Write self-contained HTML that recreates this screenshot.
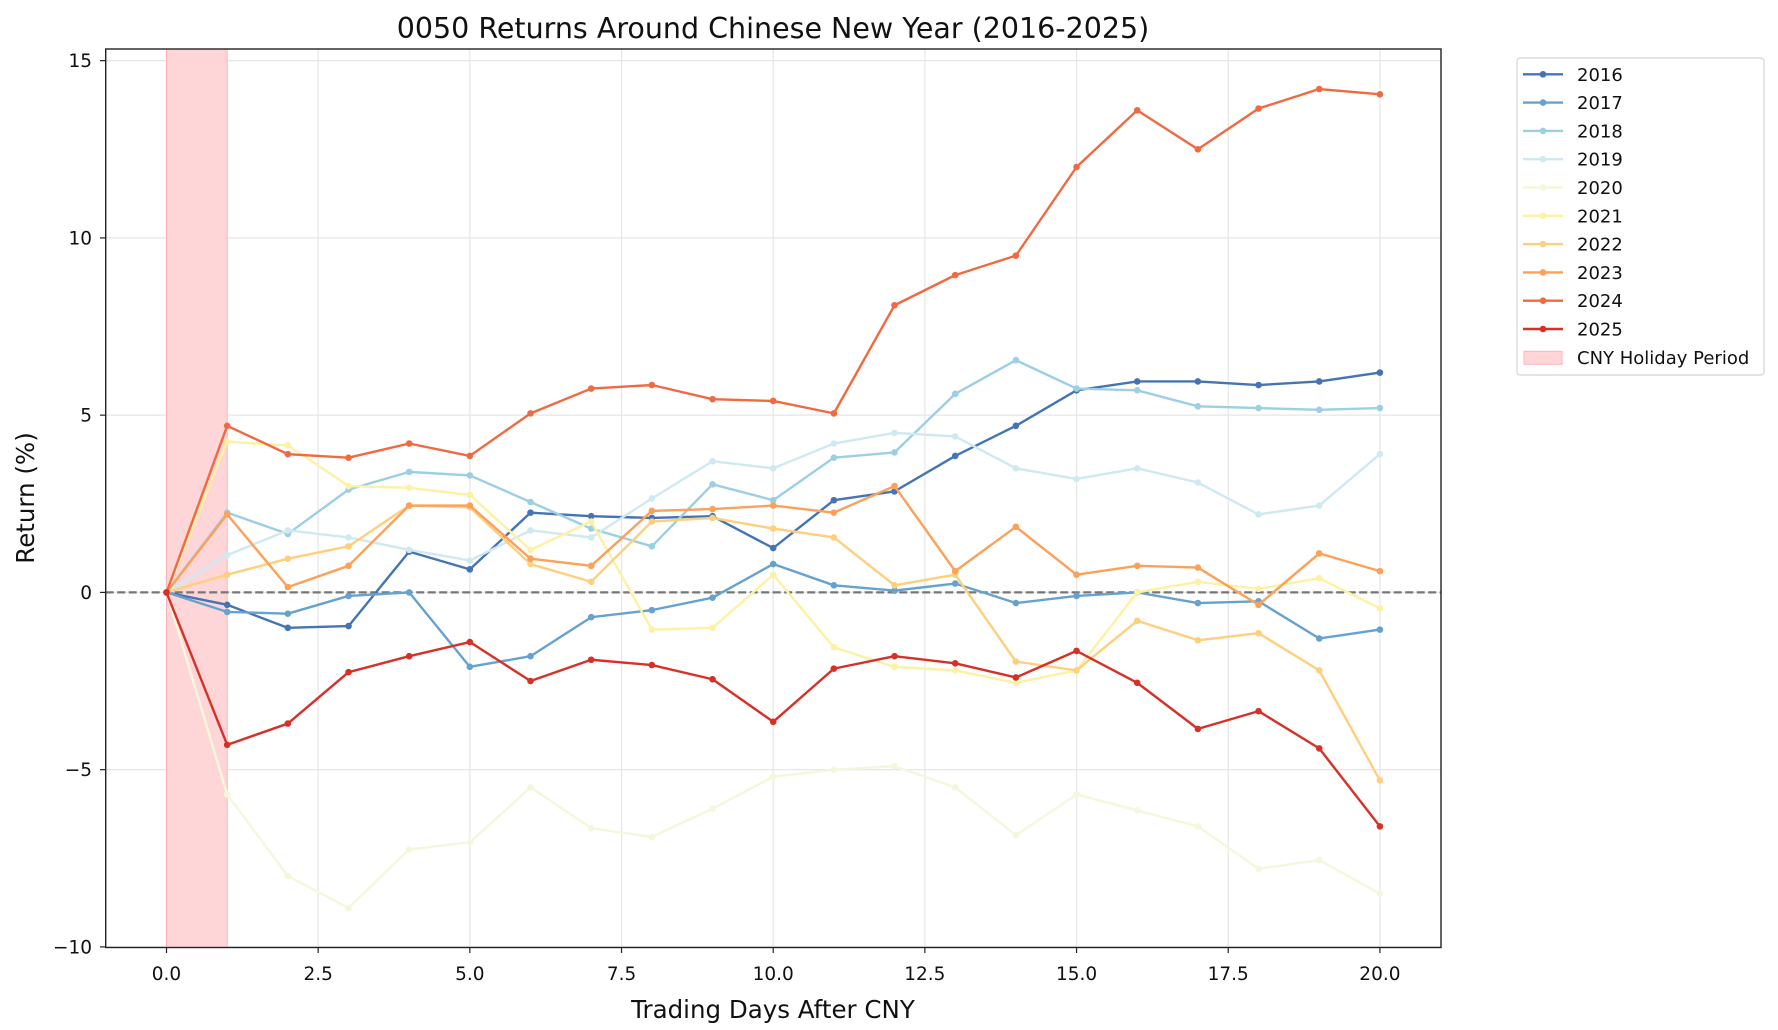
<!DOCTYPE html>
<html><head><meta charset="utf-8"><style>body{margin:0;background:#fff}svg{display:block;font-family:"DejaVu Sans","Liberation Sans",sans-serif}</style></head>
<body>
<svg id="s" width="1778" height="1030" xmlns="http://www.w3.org/2000/svg">
<rect width="1778" height="1030" fill="#fff"/>
<g id="grid"></g>
<rect x="166.5" y="49" width="60.7" height="898.5" fill="#ffd6d8" stroke="#ffb3b8" stroke-width="1"/>
<line x1="105.7" x2="1441" y1="592.4" y2="592.4" stroke="#777" stroke-width="2.2" stroke-dasharray="8,3.5"/>
<g id="series"></g>
<rect x="105.7" y="49" width="1335.3" height="898.5" fill="none" stroke="#222" stroke-width="1.4"/>
<g id="ticks" font-size="18.5" fill="#111"></g>
<text x="773" y="38" font-size="28.5" text-anchor="middle" fill="#111">0050 Returns Around Chinese New Year (2016-2025)</text>
<text x="773" y="1018" font-size="24.5" text-anchor="middle" fill="#111">Trading Days After CNY</text>
<text transform="translate(34,498) rotate(-90)" font-size="24.5" text-anchor="middle" fill="#111">Return (%)</text>
<rect x="1517" y="58" width="247" height="317" rx="3" fill="#fff" stroke="#d4d4d4" stroke-width="1.2"/>
<g id="leg" font-size="18" fill="#111"></g>
</svg>
<script>
const X=d=>166.5+d*60.67, Y=v=>592.4-v*35.45;
const ns="http://www.w3.org/2000/svg";
function el(p,t,a,txt){const e=document.createElementNS(ns,t);for(const k in a)e.setAttribute(k,a[k]);if(txt!=null)e.textContent=txt;document.getElementById(p).appendChild(e);}
for(let i=0;i<=8;i++){const x=X(i*2.5);el("grid","line",{x1:x,x2:x,y1:49,y2:947.5,stroke:"#e6e6e6","stroke-width":1.2});
el("ticks","line",{x1:x,x2:x,y1:947.5,y2:953,stroke:"#222","stroke-width":1.2});
el("ticks","text",{x:x,y:980,"text-anchor":"middle"},(i*2.5).toFixed(1));}
for(let v=-10;v<=15;v+=5){const y=Y(v);el("grid","line",{x1:105.7,x2:1441,y1:y,y2:y,stroke:"#e6e6e6","stroke-width":1.2});
el("ticks","line",{x1:100,x2:105.7,y1:y,y2:y,stroke:"#222","stroke-width":1.2});
el("ticks","text",{x:92,y:y+6.5,"text-anchor":"end"},v<0?"−"+(-v):""+v);}
const D={
2016:[0,-0.35,-1.0,-0.95,1.15,0.65,2.25,2.15,2.1,2.15,1.25,2.6,2.85,3.85,4.7,5.7,5.95,5.95,5.85,5.95,6.2],
2017:[0,-0.55,-0.6,-0.1,0,-2.1,-1.8,-0.7,-0.5,-0.15,0.8,0.2,0.05,0.25,-0.3,-0.1,0,-0.3,-0.25,-1.3,-1.05],
2018:[0,2.25,1.65,2.9,3.4,3.3,2.55,1.8,1.3,3.05,2.6,3.8,3.95,5.6,6.55,5.75,5.7,5.25,5.2,5.15,5.2],
2019:[0,1.05,1.75,1.55,1.2,0.9,1.75,1.55,2.65,3.7,3.5,4.2,4.5,4.4,3.5,3.2,3.5,3.1,2.2,2.45,3.9],
2020:[0,-5.7,-8.0,-8.9,-7.25,-7.05,-5.5,-6.65,-6.9,-6.1,-5.2,-5.0,-4.9,-5.5,-6.85,-5.7,-6.15,-6.6,-7.8,-7.55,-8.5],
2021:[0,4.25,4.15,3.0,2.95,2.75,1.2,2.0,-1.05,-1.0,0.5,-1.55,-2.1,-2.2,-2.55,-2.2,0,0.3,0.1,0.4,-0.45],
2022:[0,0.5,0.95,1.3,2.45,2.4,0.8,0.3,2.0,2.1,1.8,1.55,0.2,0.5,-1.95,-2.2,-0.8,-1.35,-1.15,-2.2,-5.3],
2023:[0,2.2,0.15,0.75,2.45,2.45,0.95,0.75,2.3,2.35,2.45,2.25,3.0,0.6,1.85,0.5,0.75,0.7,-0.35,1.1,0.6],
2024:[0,4.7,3.9,3.8,4.2,3.85,5.05,5.75,5.85,5.45,5.4,5.05,8.1,8.95,9.5,12.0,13.6,12.5,13.65,14.2,14.05],
2025:[0,-4.3,-3.7,-2.25,-1.8,-1.4,-2.5,-1.9,-2.05,-2.45,-3.65,-2.15,-1.8,-2.0,-2.4,-1.65,-2.55,-3.85,-3.35,-4.4,-6.6]};
const C=["#4474b3","#66a2cf","#9ccfe4","#cfe9f1","#f2f8dc","#fdf1a3","#fecf7c","#fca05a","#f16941","#d73027"];
Object.keys(D).forEach((k,i)=>{const d=D[k];
el("series","polyline",{points:d.map((v,j)=>X(j)+","+Y(v)).join(" "),fill:"none",stroke:C[i],"stroke-width":2.4,"stroke-linejoin":"round"});
d.forEach((v,j)=>el("series","circle",{cx:X(j),cy:Y(v),r:3.3,fill:C[i]}));
const y=74.3+i*28.3;
el("leg","line",{x1:1523,x2:1563,y1:y,y2:y,stroke:C[i],"stroke-width":2.4});
el("leg","circle",{cx:1543,cy:y,r:3.3,fill:C[i]});
el("leg","text",{x:1577,y:y+6.5},k);});
const y=74.3+10*28.3;
el("leg","rect",{x:1524,y:y-6,width:38,height:13,fill:"#ffd6d8",stroke:"#ffb3b8"});
el("leg","text",{x:1577,y:y+6.5},"CNY Holiday Period");
</script>
</body></html>
